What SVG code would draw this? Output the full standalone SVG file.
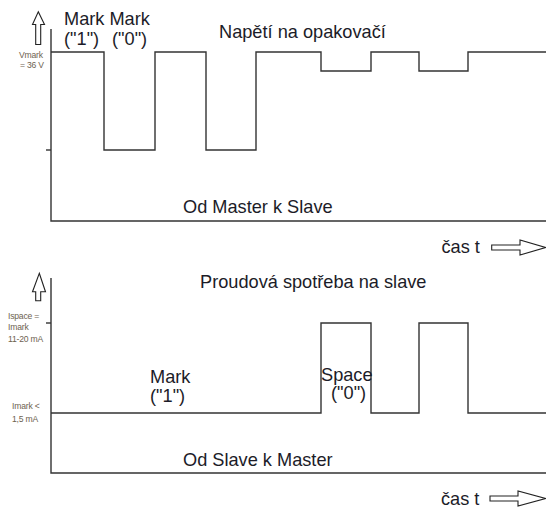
<svg xmlns="http://www.w3.org/2000/svg" width="546" height="509" viewBox="0 0 546 509">
<style>
.ln{fill:none;stroke:#333;stroke-width:1.4}
.ar{fill:#fff;stroke:#222;stroke-width:1.1}
.t{font-family:"Liberation Sans",Arial,sans-serif;font-size:18.2px;fill:#1c1c28}
.s{font-family:"Liberation Sans",Arial,sans-serif;font-size:8.6px;fill:#6e6250;letter-spacing:-0.2px}
</style>
<rect width="546" height="509" fill="#fff"/>
<g id="top-chart">
<path class="ar" d="M38.3,11.7 L44.5,24.5 L40.7,24.5 L40.7,44.5 L35.7,44.5 L35.7,24.5 L32.5,24.5 Z"/>
<path class="ln" d="M51,29 V221 H546"/>
<path class="ln" d="M46,150 H51"/>
<path class="ln" d="M51,52 H104 V150 H155 V52 H206 V150 H256 V52 H321 V71 H371 V52 H419 V71 H468 V52 H546"/>
<text class="t" x="64" y="24.5">Mark Mark</text>
<text class="t" x="64" y="45">("1")</text>
<text class="t" x="112" y="45">("0")</text>
<text class="s" x="19" y="58">Vmark</text>
<text class="s" x="20" y="68">= 36 V</text>
<text class="t" x="219" y="38">Napětí na opakovačí</text>
<text class="t" x="183" y="213.3">Od Master k Slave</text>
<text class="t" x="441.5" y="253">čas t</text>
<path class="ar" d="M491.7,245 H520 V240 L545.5,247.5 L520,255 V250 H491.7 Z"/>
</g>
<g id="bottom-chart">
<path class="ar" d="M39.3,273.3 L45.5,291.7 L40.7,291.7 L40.7,300.7 L35.7,300.7 L35.7,291.7 L32.5,291.7 Z"/>
<path class="ln" d="M51,278 V473 H546"/>
<path class="ln" d="M46,323 H51"/>
<path class="ln" d="M51,413 H321 V323 H371 V413 H419 V323 H468 V413 H546"/>
<text class="s" x="8" y="319">Ispace =</text>
<text class="s" x="8" y="330">Imark</text>
<text class="s" x="8" y="342">11-20 mA</text>
<text class="s" x="12" y="409">Imark &lt;</text>
<text class="s" x="12" y="421.5">1,5 mA</text>
<text class="t" x="200" y="288.3">Proudová spotřeba na slave</text>
<text class="t" x="150" y="383">Mark</text>
<text class="t" x="150" y="402">("1")</text>
<text class="t" x="321" y="380.7">Space</text>
<text class="t" x="331" y="399">("0")</text>
<text class="t" x="183" y="466">Od Slave k Master</text>
<text class="t" x="441" y="505">čas t</text>
<path class="ar" d="M490,496 H518 V491 L545.5,498.5 L518,506 V501 H490 Z"/>
</g>
</svg>
